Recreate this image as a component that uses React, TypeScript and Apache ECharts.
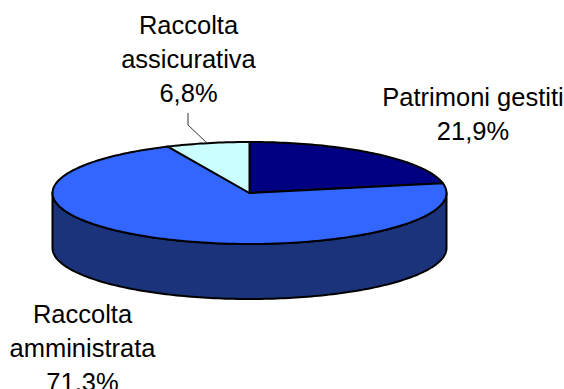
import React, { useEffect, useRef } from "react";
import * as echarts from "echarts";

// Portfolio split, clockwise from twelve o'clock
const sliceNames = ["Patrimoni gestiti", "Raccolta amministrata", "Raccolta assicurativa"];
const sliceValues = [21.9, 71.3, 6.8];
const sliceColors = ["#000080", "#3366ff", "#ccffff"];
const wallColor = "#1a337a";
const labelLines = [["Patrimoni gestiti", "21,9%"], ["Raccolta", "amministrata", "71,3%"], ["Raccolta", "assicurativa", "6,8%"]];

// Tilted disc geometry
const CX = 249.5, CY = 193, RX = 197, RY = 51, DEPTH = 55;
const labelCenters = [[473, 97], [82.5, 314], [188.5, 25]];
const LINE_H = 34;

const pt = (a: number, dy = 0) => [CX + RX * Math.sin(a), CY - RY * Math.cos(a) + dy];

const arcPoints = (a0: number, a1: number, dy = 0) => {
  const n = Math.max(2, Math.ceil(Math.abs(a1 - a0) / 0.02));
  const out: number[][] = [];
  for (let i = 0; i <= n; i++) out.push(pt(a0 + ((a1 - a0) * i) / n, dy));
  return out;
};

export default function App() {
  const ref = useRef<HTMLDivElement>(null);
  useEffect(() => {
    const chart = echarts.init(ref.current!, undefined, { renderer: "svg" });
    const total = sliceValues.reduce((s, v) => s + v, 0);
    const starts: number[] = [];
    let acc = 0;
    for (const v of sliceValues) {
      starts.push((acc / total) * Math.PI * 2);
      acc += v;
    }
    const outline = { stroke: "#000", lineWidth: 2, lineJoin: "round" as const };

    chart.setOption({
      animation: false,
      backgroundColor: "#fff",
      series: [
        {
          type: "custom",
          coordinateSystem: "none",
          silent: true,
          data: sliceValues.map((v, i) => ({ name: sliceNames[i], value: [v, i] })),
          renderItem: (_p: unknown, api: any) => {
            const i = api.value(1) as number;
            const a0 = starts[i];
            const a1 = a0 + ((api.value(0) as number) / total) * Math.PI * 2;
            const children: any[] = [];
            // The front wall is drawn once, under the first slice
            if (i === 0) {
              const wall = [...arcPoints(Math.PI / 2, (Math.PI * 3) / 2), ...arcPoints((Math.PI * 3) / 2, Math.PI / 2, DEPTH)];
              children.push({ type: "polygon", shape: { points: wall }, style: { fill: wallColor, ...outline } });
            }
            children.push({
              type: "polygon",
              shape: { points: [[CX, CY], ...arcPoints(a0, a1)] },
              style: { fill: sliceColors[i], ...outline },
            });
            const [lx, ly] = labelCenters[i];
            labelLines[i].forEach((t, k) => {
              children.push({
                type: "text",
                style: {
                  x: lx,
                  y: ly + k * LINE_H,
                  text: t,
                  fill: "#000",
                  font: '25.5px "Liberation Sans", Arial, sans-serif',
                  align: "center",
                  verticalAlign: "middle",
                },
              });
            });
            // Leader line for the small slice
            if (i === 2) {
              children.push({
                type: "polyline",
                shape: { points: [[188, 113], [188, 125], [207, 143]] },
                style: { fill: "none", stroke: "#333", lineWidth: 1 },
              });
            }
            return { type: "group", children };
          },
        },
      ],
    });
    return () => chart.dispose();
  }, []);
  return <div ref={ref} style={{ position: "absolute", left: 0, top: 0, width: 564, height: 389 }} />;
}
